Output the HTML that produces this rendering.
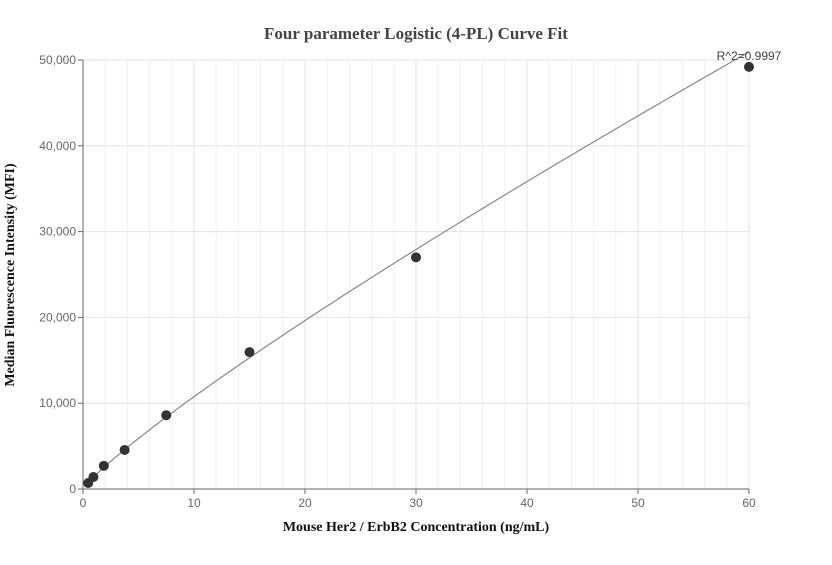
<!DOCTYPE html>
<html><head><meta charset="utf-8"><style>
body{margin:0;background:#fff;}
svg text{font-family:"Liberation Sans",sans-serif;}
</style></head><body>
<svg id="chart" width="832" height="560" xmlns="http://www.w3.org/2000/svg">
<text x="416" y="39" text-anchor="middle" font-weight="bold" font-size="17" fill="#444" style="font-family:'Liberation Serif',serif">Four parameter Logistic (4-PL) Curve Fit</text>
<g id="grid"></g><g id="axes"></g><g id="series"></g>
<text x="416" y="531" text-anchor="middle" font-weight="bold" font-size="14" fill="#111" style="font-family:'Liberation Serif',serif">Mouse Her2 / ErbB2 Concentration (ng/mL)</text>
<text transform="translate(14,275) rotate(-90)" text-anchor="middle" font-weight="bold" font-size="14" fill="#111" style="font-family:'Liberation Serif',serif">Median Fluorescence Intensity (MFI)</text>
<text x="749" y="60" text-anchor="middle" font-size="12" fill="#444">R^2=0.9997</text>
</svg>
<script>
const xVals=[0.469,0.938,1.875,3.75,7.5,15,30,60];
const yVals=[700,1400,2700,4550,8600,15950,27000,49200];
const xTicks=[0,10,20,30,40,50,60];
const yTicks=[0,10000,20000,30000,40000,50000];
const NS="http://www.w3.org/2000/svg";
const X0=83,X1=749,Y0=489,Y1=60;
const sx=v=>X0+(X1-X0)*v/60, sy=v=>Y0-(Y0-Y1)*v/50000;
function mk(t,a,p){const e=document.createElementNS(NS,t);for(const k in a)e.setAttribute(k,a[k]);p.appendChild(e);return e;}
const grid=document.getElementById('grid'),axes=document.getElementById('axes'),series=document.getElementById('series');
for(let v=2;v<60;v+=2){if(v%10===0)continue;const l=mk('line',{x1:sx(v),x2:sx(v),y1:Y1,y2:Y0,stroke:'#eef1f8','stroke-width':1},grid);

}
xTicks.forEach(v=>{if(v>0){const l=mk('line',{x1:sx(v),x2:sx(v),y1:Y1,y2:Y0,stroke:'#dde3f0'},grid);

}
mk('line',{x1:sx(v),x2:sx(v),y1:Y0,y2:Y0+5,stroke:'#666'},axes);
const t=mk('text',{x:sx(v),y:Y0+18,'text-anchor':'middle','font-size':12,fill:'#666'},axes);t.textContent=v;

});
yTicks.forEach(v=>{if(v>0){const l=mk('line',{x1:X0,x2:X1,y1:sy(v),y2:sy(v),stroke:'#dde3f0'},grid);

}
mk('line',{x1:X0-5,x2:X0,y1:sy(v),y2:sy(v),stroke:'#666'},axes);
const t=mk('text',{x:X0-7,y:sy(v)+4,'text-anchor':'end','font-size':12,fill:'#666'},axes);t.textContent=v.toLocaleString('en-US');

});
const xa=mk('line',{x1:X0,x2:X1,y1:Y0,y2:Y0,stroke:'#666'},axes);


const ya=mk('line',{x1:X0,x2:X0,y1:Y1,y2:Y0,stroke:'#666'},axes);


// smooth fit: power-law regression in log space
const lx=xVals.map(Math.log),ly=yVals.map(Math.log),n=lx.length;
const mx=lx.reduce((a,b)=>a+b)/n,my=ly.reduce((a,b)=>a+b)/n;
let num=0,den=0;for(let i=0;i<n;i++){num+=(lx[i]-mx)*(ly[i]-my);den+=(lx[i]-mx)**2;}
const pw=num/den,lk=my-pw*mx;
const xmin=xVals[0],xmax=xVals[n-1];
let d='';
for(let i=0;i<=200;i++){const x=xmin+(xmax-xmin)*i/200;const y=Math.exp(lk+pw*Math.log(x));d+=(i?' L':'M')+sx(x).toFixed(2)+','+sy(y).toFixed(2);}
const c=mk('path',{d:d,fill:'none',stroke:'#888','stroke-width':1.2},series);


xVals.forEach((x,i)=>{const e=mk('circle',{cx:sx(x),cy:sy(yVals[i]),r:5,fill:'#333'},series);

});
</script>
</body></html>
